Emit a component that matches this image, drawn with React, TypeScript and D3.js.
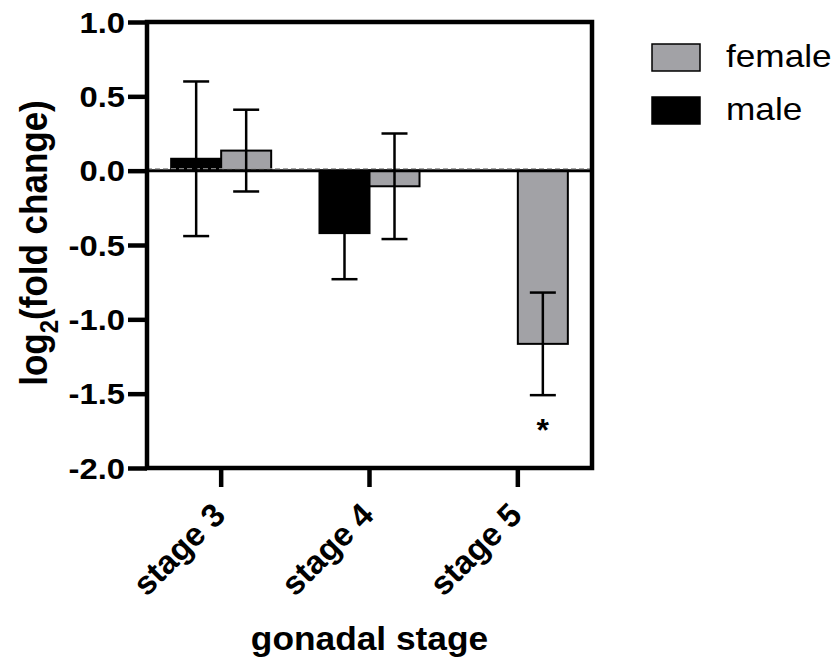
import React, { useEffect, useRef } from "react";
import * as d3 from "d3";

const stages = ["stage 3", "stage 4", "stage 5"];
const sexes = ["male", "female"];
const maleMean = [0.08, -0.42, null];
const maleErr = [0.52, 0.31, null];
const femaleMean = [0.135, -0.105, -1.165];
const femaleErr = [0.275, 0.355, 0.345];
const yTicks = [-2, -1.5, -1, -0.5, 0, 0.5, 1];
// "*" under the female bar of that stage
const significant = [false, false, true];

const W = 838;
const H = 661;
const FONT = "'Liberation Sans', Arial, Helvetica, sans-serif";
const GREY = "#a2a2a6";

export default function App() {
  const ref = useRef<SVGSVGElement>(null);

  useEffect(() => {
    drawChart();
  }, []);

  function drawChart() {
    const svg = d3.select(ref.current);
    svg.selectAll("*").remove();

    const left = 147;
    const right = 592;
    const top = 22;
    const bottom = 468;

    const x = d3.scaleBand<string>().domain(stages).range([left, right]);
    const xSub = d3
      .scaleBand<string>()
      .domain(sexes)
      .range([0, x.bandwidth()])
      .paddingOuter(0.483);
    const y = d3.scaleLinear().domain([-2, 1]).range([bottom, top]);

    const rows = stages
      .flatMap((s, i) => [
        { stage: s, sex: "male", mean: maleMean[i], err: maleErr[i] },
        { stage: s, sex: "female", mean: femaleMean[i], err: femaleErr[i] }
      ])
      .filter(d => d.mean != null) as {
      stage: string;
      sex: string;
      mean: number;
      err: number;
    }[];

    const color = (sex: string) => (sex === "male" ? "#000" : GREY);

    // bars
    svg
      .append("g")
      .selectAll("rect")
      .data(rows)
      .enter()
      .append("rect")
      .attr("x", d => (x(d.stage) as number) + (xSub(d.sex) as number))
      .attr("y", d => y(Math.max(0, d.mean)))
      .attr("width", xSub.bandwidth())
      .attr("height", d => Math.abs(y(d.mean) - y(0)))
      .attr("fill", d => color(d.sex))
      .attr("stroke", "#000")
      .attr("stroke-width", 2);

    // zero line
    svg
      .append("line")
      .attr("x1", left)
      .attr("x2", right)
      .attr("y1", y(0))
      .attr("y2", y(0))
      .attr("stroke", "#000")
      .attr("stroke-width", 3);
    svg
      .append("line")
      .attr("x1", left)
      .attr("x2", right)
      .attr("y1", y(0) - 2)
      .attr("y2", y(0) - 2)
      .attr("stroke", "#999")
      .attr("stroke-width", 1)
      .attr("stroke-dasharray", "5,3");

    // error bars
    const cx = (d: { stage: string; sex: string }) =>
      (x(d.stage) as number) + (xSub(d.sex) as number) + xSub.bandwidth() / 2;
    const eb = svg
      .append("g")
      .attr("stroke", "#000")
      .attr("stroke-width", 2.5)
      .selectAll("g")
      .data(rows)
      .enter()
      .append("g");
    eb.append("line")
      .attr("x1", cx)
      .attr("x2", cx)
      .attr("y1", d => y(d.mean + d.err))
      .attr("y2", d => y(d.mean - d.err));
    [1, -1].forEach(sign => {
      eb.append("line")
        .attr("x1", d => cx(d) - 13)
        .attr("x2", d => cx(d) + 13)
        .attr("y1", d => y(d.mean + sign * d.err))
        .attr("y2", d => y(d.mean + sign * d.err));
    });

    // asterisk
    svg
      .append("g")
      .selectAll("text")
      .data(rows.filter(d => d.sex === "female" && significant[stages.indexOf(d.stage)]))
      .enter()
      .append("text")
      .attr("x", cx)
      .attr("y", d => y(d.mean - d.err) + 46)
      .attr("text-anchor", "middle")
      .attr("font-family", FONT)
      .attr("font-weight", "bold")
      .attr("font-size", 32)
      .text("*");

    // frame
    svg
      .append("rect")
      .attr("x", left)
      .attr("y", top)
      .attr("width", right - left)
      .attr("height", bottom - top)
      .attr("fill", "none")
      .attr("stroke", "#000")
      .attr("stroke-width", 4.5);

    // y axis
    const yAxis = d3
      .axisLeft(y)
      .tickValues(yTicks)
      .tickSize(19)
      .tickSizeOuter(0)
      .tickFormat(d => (d as number).toFixed(1));
    const gy = svg.append("g").attr("transform", `translate(${left},0)`).call(yAxis);
    gy.select(".domain").remove();
    gy.selectAll("line").attr("stroke-width", 4.5);
    gy.selectAll("text")
      .attr("x", null)
      .attr("dy", null)
      .attr("transform", "translate(-22,10) scale(1.13,1)")
      .attr("font-family", FONT)
      .attr("font-weight", "bold")
      .attr("font-size", 29)
      .attr("fill", "#000");

    // x axis
    const xAxis = d3.axisBottom(x).tickSize(19).tickSizeOuter(0);
    const gx = svg.append("g").attr("transform", `translate(0,${bottom})`).call(xAxis);
    gx.select(".domain").remove();
    gx.selectAll("line").attr("stroke-width", 4.5);
    gx.selectAll("text")
      .attr("x", null)
      .attr("y", null)
      .attr("dy", null)
      .attr("text-anchor", "end")
      .attr("transform", "translate(6,49) rotate(-45)")
      .attr("font-family", FONT)
      .attr("font-weight", "bold")
      .attr("font-size", 33)
      .attr("fill", "#000");

    // axis titles
    svg
      .append("text")
      .attr("transform", `translate(${(left + right) / 2},650) scale(1.07,1)`)
      .attr("text-anchor", "middle")
      .attr("font-family", FONT)
      .attr("font-weight", "bold")
      .attr("font-size", 33)
      .text("gonadal stage");

    const yt = svg
      .append("text")
      .attr("transform", "translate(47,243) scale(1.1,1) rotate(-90)")
      .attr("text-anchor", "middle")
      .attr("font-family", FONT)
      .attr("font-weight", "bold")
      .attr("font-size", 35);
    yt.append("tspan").text("log");
    yt.append("tspan").attr("dy", 10).attr("font-size", 24).text("2");
    yt.append("tspan").attr("dy", -10).text("(fold change)");

    // legend
    const legendItems = ["female", "male"];
    const lg = svg
      .append("g")
      .selectAll("g")
      .data(legendItems)
      .enter()
      .append("g")
      .attr("transform", (d, i) => `translate(652,${44 + i * 53})`);
    lg.append("rect")
      .attr("width", 48)
      .attr("height", 27)
      .attr("fill", d => color(d))
      .attr("stroke", "#000")
      .attr("stroke-width", 1.5);
    lg.append("text")
      .attr("transform", "translate(74,23) scale(1.1,1)")
      .attr("font-family", FONT)
      .attr("font-size", 32)
      .text(d => d);
  }

  return (
    <div style={{ position: "absolute", left: 0, top: 0 }}>
      <svg ref={ref} width={W} height={H} style={{ display: "block", background: "#fff" }} />
    </div>
  );
}
